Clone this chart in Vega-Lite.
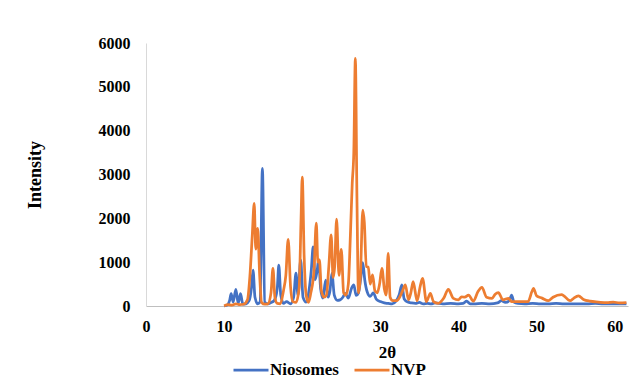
{
  "$schema": "https://vega.github.io/schema/vega-lite/v6.json",
  "width": 482,
  "height": 263,
  "autosize": "none",
  "padding": {"left": 146, "top": 43, "right": 8, "bottom": 72},
  "background": "white",
  "config": {"view": {"stroke": null}, "font": "Liberation Serif"},
  "data": {"values": [
{"series":"Niosomes","t":10.0,"i":0},{"series":"Niosomes","t":10.4,"i":20},{"series":"Niosomes","t":10.7,"i":120},{"series":"Niosomes","t":10.9,"i":280},{"series":"Niosomes","t":11.15,"i":90},{"series":"Niosomes","t":11.5,"i":380},{"series":"Niosomes","t":11.8,"i":60},{"series":"Niosomes","t":12.1,"i":280},{"series":"Niosomes","t":12.4,"i":40},{"series":"Niosomes","t":12.8,"i":50},{"series":"Niosomes","t":13.2,"i":120},{"series":"Niosomes","t":13.5,"i":420},{"series":"Niosomes","t":13.7,"i":820},{"series":"Niosomes","t":13.95,"i":200},{"series":"Niosomes","t":14.3,"i":50},{"series":"Niosomes","t":14.6,"i":90},{"series":"Niosomes","t":14.9,"i":3140},{"series":"Niosomes","t":15.2,"i":90},{"series":"Niosomes","t":15.6,"i":50},{"series":"Niosomes","t":16.0,"i":80},{"series":"Niosomes","t":16.4,"i":120},{"series":"Niosomes","t":16.8,"i":400},{"series":"Niosomes","t":17.0,"i":930},{"series":"Niosomes","t":17.25,"i":250},{"series":"Niosomes","t":17.6,"i":60},{"series":"Niosomes","t":18.0,"i":100},{"series":"Niosomes","t":18.5,"i":50},{"series":"Niosomes","t":18.9,"i":200},{"series":"Niosomes","t":19.2,"i":750},{"series":"Niosomes","t":19.45,"i":250},{"series":"Niosomes","t":19.8,"i":1050},{"series":"Niosomes","t":20.1,"i":200},{"series":"Niosomes","t":20.5,"i":90},{"series":"Niosomes","t":20.9,"i":400},{"series":"Niosomes","t":21.15,"i":800},{"series":"Niosomes","t":21.4,"i":1350},{"series":"Niosomes","t":21.65,"i":600},{"series":"Niosomes","t":21.9,"i":800},{"series":"Niosomes","t":22.1,"i":1050},{"series":"Niosomes","t":22.35,"i":400},{"series":"Niosomes","t":22.65,"i":180},{"series":"Niosomes","t":23.0,"i":590},{"series":"Niosomes","t":23.3,"i":200},{"series":"Niosomes","t":23.55,"i":350},{"series":"Niosomes","t":23.8,"i":750},{"series":"Niosomes","t":24.1,"i":250},{"series":"Niosomes","t":24.5,"i":130},{"series":"Niosomes","t":24.85,"i":140},{"series":"Niosomes","t":25.2,"i":200},{"series":"Niosomes","t":25.5,"i":290},{"series":"Niosomes","t":25.9,"i":180},{"series":"Niosomes","t":26.3,"i":400},{"series":"Niosomes","t":26.6,"i":480},{"series":"Niosomes","t":26.9,"i":240},{"series":"Niosomes","t":27.2,"i":300},{"series":"Niosomes","t":27.5,"i":650},{"series":"Niosomes","t":27.75,"i":990},{"series":"Niosomes","t":28.0,"i":600},{"series":"Niosomes","t":28.3,"i":330},{"series":"Niosomes","t":28.7,"i":220},{"series":"Niosomes","t":29.1,"i":300},{"series":"Niosomes","t":29.5,"i":150},{"series":"Niosomes","t":30.0,"i":100},{"series":"Niosomes","t":30.5,"i":70},{"series":"Niosomes","t":31.0,"i":60},{"series":"Niosomes","t":31.5,"i":50},{"series":"Niosomes","t":32.0,"i":110},{"series":"Niosomes","t":32.4,"i":250},{"series":"Niosomes","t":32.75,"i":480},{"series":"Niosomes","t":33.05,"i":160},{"series":"Niosomes","t":33.5,"i":90},{"series":"Niosomes","t":34.0,"i":70},{"series":"Niosomes","t":34.5,"i":60},{"series":"Niosomes","t":35.0,"i":80},{"series":"Niosomes","t":35.5,"i":50},{"series":"Niosomes","t":36.0,"i":60},{"series":"Niosomes","t":36.5,"i":50},{"series":"Niosomes","t":37.0,"i":70},{"series":"Niosomes","t":38.0,"i":50},{"series":"Niosomes","t":39.0,"i":60},{"series":"Niosomes","t":40.0,"i":50},{"series":"Niosomes","t":40.6,"i":60},{"series":"Niosomes","t":41.05,"i":110},{"series":"Niosomes","t":41.5,"i":50},{"series":"Niosomes","t":42.0,"i":50},{"series":"Niosomes","t":43.0,"i":60},{"series":"Niosomes","t":44.0,"i":50},{"series":"Niosomes","t":45.0,"i":70},{"series":"Niosomes","t":45.5,"i":120},{"series":"Niosomes","t":46.0,"i":80},{"series":"Niosomes","t":46.5,"i":120},{"series":"Niosomes","t":46.8,"i":250},{"series":"Niosomes","t":47.1,"i":90},{"series":"Niosomes","t":47.6,"i":60},{"series":"Niosomes","t":48.5,"i":50},{"series":"Niosomes","t":49.5,"i":60},{"series":"Niosomes","t":50.5,"i":50},{"series":"Niosomes","t":51.5,"i":50},{"series":"Niosomes","t":52.5,"i":60},{"series":"Niosomes","t":53.5,"i":50},{"series":"Niosomes","t":54.5,"i":50},{"series":"Niosomes","t":55.5,"i":50},{"series":"Niosomes","t":56.5,"i":50},{"series":"Niosomes","t":57.5,"i":60},{"series":"Niosomes","t":58.5,"i":50},{"series":"Niosomes","t":59.5,"i":50},{"series":"Niosomes","t":60.5,"i":50},{"series":"Niosomes","t":61.5,"i":50},
{"series":"NVP","t":10.0,"i":0},{"series":"NVP","t":10.5,"i":30},{"series":"NVP","t":11.0,"i":20},{"series":"NVP","t":11.5,"i":50},{"series":"NVP","t":12.0,"i":30},{"series":"NVP","t":12.5,"i":40},{"series":"NVP","t":13.0,"i":150},{"series":"NVP","t":13.3,"i":680},{"series":"NVP","t":13.6,"i":1600},{"series":"NVP","t":13.85,"i":2340},{"series":"NVP","t":14.05,"i":1300},{"series":"NVP","t":14.3,"i":1770},{"series":"NVP","t":14.55,"i":700},{"series":"NVP","t":14.8,"i":80},{"series":"NVP","t":15.2,"i":40},{"series":"NVP","t":15.6,"i":50},{"series":"NVP","t":16.0,"i":300},{"series":"NVP","t":16.25,"i":860},{"series":"NVP","t":16.5,"i":200},{"series":"NVP","t":16.8,"i":60},{"series":"NVP","t":17.2,"i":50},{"series":"NVP","t":17.6,"i":350},{"series":"NVP","t":17.9,"i":700},{"series":"NVP","t":18.2,"i":1520},{"series":"NVP","t":18.5,"i":450},{"series":"NVP","t":18.8,"i":100},{"series":"NVP","t":19.2,"i":80},{"series":"NVP","t":19.6,"i":400},{"series":"NVP","t":19.85,"i":2000},{"series":"NVP","t":20.0,"i":2940},{"series":"NVP","t":20.25,"i":1100},{"series":"NVP","t":20.5,"i":250},{"series":"NVP","t":20.8,"i":80},{"series":"NVP","t":21.1,"i":300},{"series":"NVP","t":21.5,"i":800},{"series":"NVP","t":21.8,"i":1890},{"series":"NVP","t":22.0,"i":1000},{"series":"NVP","t":22.2,"i":1050},{"series":"NVP","t":22.45,"i":350},{"series":"NVP","t":22.8,"i":200},{"series":"NVP","t":23.1,"i":250},{"series":"NVP","t":23.4,"i":900},{"series":"NVP","t":23.7,"i":1620},{"series":"NVP","t":23.95,"i":650},{"series":"NVP","t":24.15,"i":900},{"series":"NVP","t":24.4,"i":1980},{"series":"NVP","t":24.7,"i":700},{"series":"NVP","t":25.0,"i":1290},{"series":"NVP","t":25.3,"i":300},{"series":"NVP","t":25.6,"i":250},{"series":"NVP","t":25.9,"i":500},{"series":"NVP","t":26.2,"i":1800},{"series":"NVP","t":26.4,"i":2800},{"series":"NVP","t":26.6,"i":3500},{"series":"NVP","t":26.8,"i":5650},{"series":"NVP","t":27.0,"i":2500},{"series":"NVP","t":27.2,"i":300},{"series":"NVP","t":27.45,"i":700},{"series":"NVP","t":27.75,"i":2190},{"series":"NVP","t":27.95,"i":1900},{"series":"NVP","t":28.2,"i":900},{"series":"NVP","t":28.45,"i":890},{"series":"NVP","t":28.7,"i":500},{"series":"NVP","t":29.0,"i":710},{"series":"NVP","t":29.3,"i":350},{"series":"NVP","t":29.6,"i":300},{"series":"NVP","t":29.9,"i":500},{"series":"NVP","t":30.2,"i":860},{"series":"NVP","t":30.5,"i":400},{"series":"NVP","t":30.75,"i":250},{"series":"NVP","t":31.0,"i":1200},{"series":"NVP","t":31.25,"i":200},{"series":"NVP","t":31.6,"i":120},{"series":"NVP","t":32.1,"i":120},{"series":"NVP","t":32.5,"i":210},{"series":"NVP","t":32.85,"i":350},{"series":"NVP","t":33.2,"i":480},{"series":"NVP","t":33.6,"i":140},{"series":"NVP","t":33.9,"i":300},{"series":"NVP","t":34.2,"i":555},{"series":"NVP","t":34.7,"i":120},{"series":"NVP","t":35.1,"i":450},{"series":"NVP","t":35.4,"i":630},{"series":"NVP","t":35.9,"i":100},{"series":"NVP","t":36.4,"i":290},{"series":"NVP","t":36.8,"i":100},{"series":"NVP","t":37.4,"i":60},{"series":"NVP","t":38.1,"i":175},{"series":"NVP","t":38.7,"i":380},{"series":"NVP","t":39.35,"i":175},{"series":"NVP","t":40.0,"i":140},{"series":"NVP","t":40.4,"i":210},{"series":"NVP","t":40.8,"i":200},{"series":"NVP","t":41.3,"i":250},{"series":"NVP","t":41.9,"i":110},{"series":"NVP","t":42.5,"i":330},{"series":"NVP","t":43.0,"i":425},{"series":"NVP","t":43.6,"i":200},{"series":"NVP","t":44.3,"i":175},{"series":"NVP","t":44.7,"i":270},{"series":"NVP","t":45.1,"i":305},{"series":"NVP","t":45.7,"i":140},{"series":"NVP","t":46.4,"i":175},{"series":"NVP","t":46.8,"i":100},{"series":"NVP","t":47.9,"i":100},{"series":"NVP","t":48.9,"i":100},{"series":"NVP","t":49.4,"i":330},{"series":"NVP","t":49.6,"i":400},{"series":"NVP","t":50.0,"i":230},{"series":"NVP","t":50.7,"i":180},{"series":"NVP","t":51.5,"i":120},{"series":"NVP","t":52.1,"i":200},{"series":"NVP","t":53.2,"i":260},{"series":"NVP","t":54.3,"i":120},{"series":"NVP","t":54.7,"i":170},{"series":"NVP","t":55.35,"i":230},{"series":"NVP","t":56.0,"i":150},{"series":"NVP","t":56.85,"i":110},{"series":"NVP","t":57.9,"i":90},{"series":"NVP","t":59.0,"i":75},{"series":"NVP","t":59.8,"i":90},{"series":"NVP","t":60.6,"i":70},{"series":"NVP","t":61.5,"i":75}
  ]},
  "mark": {"type": "line", "strokeWidth": 2.75, "clip": false, "interpolate": "monotone"},
  "encoding": {
    "x": {
      "field": "t", "type": "quantitative",
      "scale": {"domain": [0, 61.7], "nice": false, "zero": true},
      "axis": {
        "values": [0, 10, 20, 30, 40, 50, 60], "format": "d", "title": "2θ", "grid": false, "ticks": false,
        "labelFlush": false, "labelOverlap": false,
        "domainColor": "#BFBFBF", "domainWidth": 1,
        "labelFont": "Liberation Serif", "labelFontWeight": "bold", "labelFontSize": 16, "labelColor": "#000000", "labelPadding": 12,
        "titleFont": "Liberation Serif", "titleFontWeight": "bold", "titleFontSize": 17, "titleColor": "#000000", "titlePadding": 10
      }
    },
    "y": {
      "field": "i", "type": "quantitative",
      "scale": {"domain": [0, 6000], "nice": false},
      "axis": {
        "values": [0, 1000, 2000, 3000, 4000, 5000, 6000], "format": "d", "title": "Intensity", "grid": false, "ticks": false,
        "labelFlush": false, "labelOverlap": false,
        "domainColor": "#D9D9D9", "domainWidth": 1,
        "labelFont": "Liberation Serif", "labelFontWeight": "bold", "labelFontSize": 16, "labelColor": "#000000", "labelPadding": 16,
        "titleFont": "Liberation Serif", "titleFontWeight": "bold", "titleFontSize": 18, "titleColor": "#000000", "titlePadding": 54
      }
    },
    "color": {
      "field": "series", "type": "nominal",
      "scale": {"domain": ["Niosomes", "NVP"], "range": ["#4472C4", "#ED7D31"]},
      "legend": {
        "title": null, "orient": "none", "direction": "horizontal", "legendX": 86, "legendY": 308,
        "symbolType": "stroke", "symbolSize": 1225, "symbolStrokeWidth": 2.75,
        "labelFont": "Liberation Serif", "labelFontWeight": "bold", "labelFontSize": 17, "labelColor": "#000000",
        "labelOffset": 0, "columnPadding": 10, "padding": 0
      }
    }
  }
}
